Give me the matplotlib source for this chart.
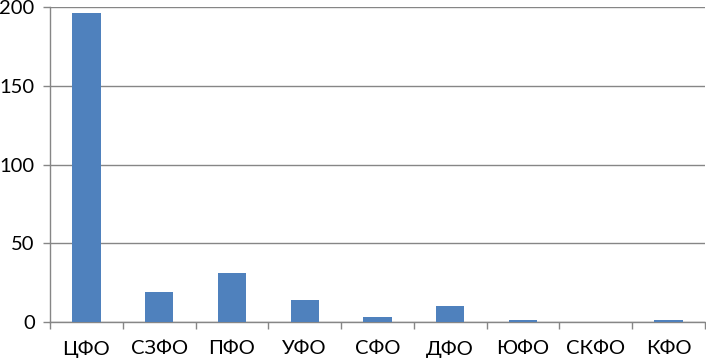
import matplotlib.pyplot as plt
import numpy as np

districts = ["ЦФО", "СЗФО", "ПФО", "УФО", "СФО", "ДФО", "ЮФО", "СКФО", "КФО"]
counts = [196, 19, 31, 14, 3, 10, 1, 0, 1]

plt.rcParams['font.family'] = ['Lato', 'DejaVu Sans']

fig = plt.figure(figsize=(7.06, 3.6), dpi=100)
ax = fig.add_axes([50 / 706, 38 / 360, 655 / 706, 315 / 360])

x = np.arange(len(districts))
ax.bar(x, counts, width=0.39, color="#4F81BD", zorder=3)

ax.set_xlim(-0.5, len(districts) - 0.5)
ax.set_ylim(0, 200)
ax.set_yticks([0, 50, 100, 150, 200])
ax.grid(axis="y", color="#868686", linewidth=1, zorder=0)

ax.set_xticks(x)
ax.set_xticklabels(districts)
ax.set_xticks(np.arange(-0.5, len(districts)), minor=True)
ax.tick_params(axis="x", which="major", length=0, pad=13, labelsize=14.5)
ax.tick_params(axis="x", which="minor", length=5, color="#868686", width=1)
ax.tick_params(axis="y", length=5, color="#868686", width=1, labelsize=14.5, pad=6)

for side in ["top", "right"]:
    ax.spines[side].set_visible(False)
for side in ["left", "bottom"]:
    ax.spines[side].set_color("#868686")
    ax.spines[side].set_linewidth(1)

fig.savefig("out.png", dpi=100)
